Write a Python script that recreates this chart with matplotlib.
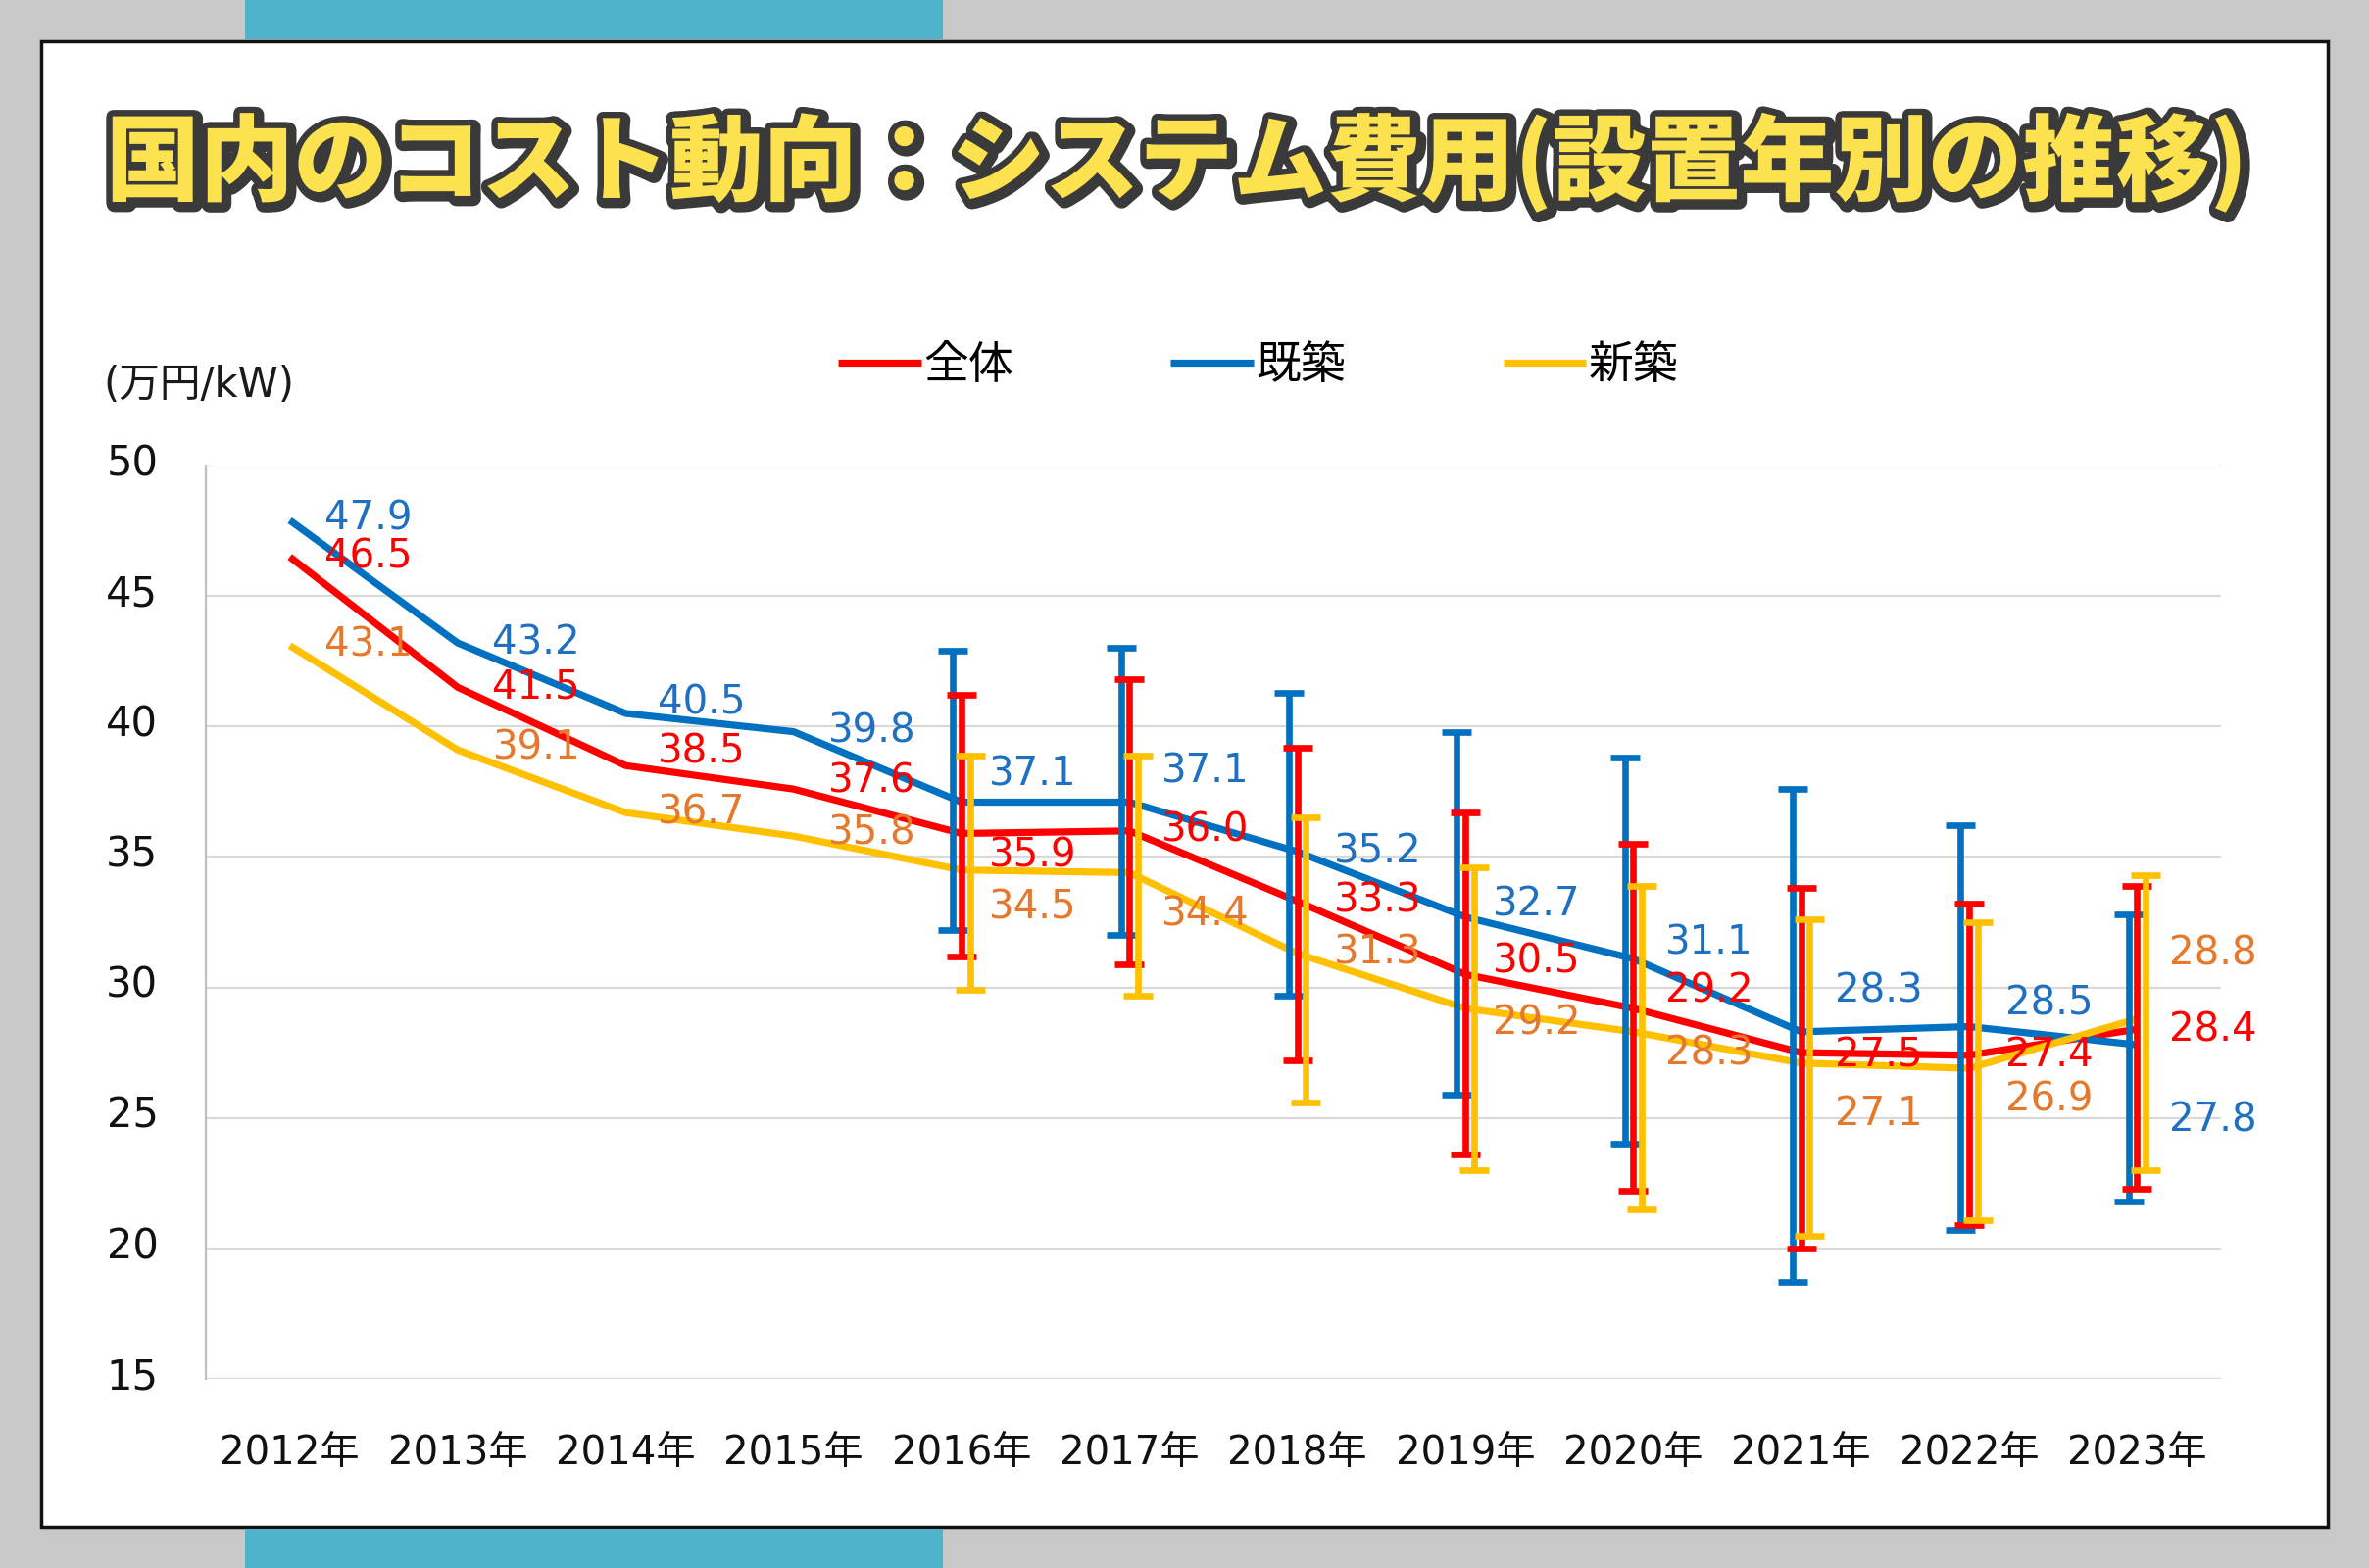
import matplotlib
matplotlib.use("Agg")
import matplotlib.pyplot as plt
import matplotlib.patheffects as pe
from matplotlib.patches import Rectangle
from matplotlib.transforms import ScaledTranslation
import numpy as np

plt.rcParams['font.family'] = ['DejaVu Sans', 'Noto Sans CJK JP']

# ---------------- data ----------------
years = ["2012年", "2013年", "2014年", "2015年", "2016年", "2017年",
         "2018年", "2019年", "2020年", "2021年", "2022年", "2023年"]
series_names = ["全体", "既築", "新築"]
total = [46.5, 41.5, 38.5, 37.6, 35.9, 36.0, 33.3, 30.5, 29.2, 27.5, 27.4, 28.4]
existing = [47.9, 43.2, 40.5, 39.8, 37.1, 37.1, 35.2, 32.7, 31.1, 28.3, 28.5, 27.8]
new_build = [43.1, 39.1, 36.7, 35.8, 34.5, 34.4, 31.3, 29.2, 28.3, 27.1, 26.9, 28.8]

# range (error bars) from 2016 onward
err_start = 4
total_high = [41.2, 41.8, 39.2, 36.7, 35.5, 33.8, 33.2, 33.9]
total_low = [31.2, 30.9, 27.2, 23.6, 22.2, 20.0, 20.9, 22.3]
existing_high = [42.9, 43.0, 41.3, 39.8, 38.8, 37.6, 36.2, 32.8]
existing_low = [32.2, 32.0, 29.7, 25.9, 24.0, 18.7, 20.7, 21.8]
new_high = [38.9, 38.9, 36.5, 34.6, 33.9, 32.6, 32.5, 34.3]
new_low = [29.9, 29.7, 25.6, 23.0, 21.5, 20.5, 21.1, 23.0]

yticks = [15, 20, 25, 30, 35, 40, 45, 50]

# ---------------- layout / style ----------------
W, H = 2417, 1600
RED, BLUE, YEL = "#FF0000", "#0070C0", "#FFC000"
LBL_RED, LBL_BLUE, LBL_ORG = "#FF0000", "#1F70C1", "#E5782A"
# label offsets (pixels in the shrunk reference; +dy = downward)
lab_dx = [23, 23, 21, 23, 18, 21, 24, 18, 21, 22, 24, 21]
dy_total = [0, 0, -9, -5, 15, 0, 0, -8, -11, 2, 0, 1]
dy_existing = [-1, 0, -7, 0, -18, -20, 0, -8, -10, -27, -15, 50]
dy_new = [0, -1, 0, -2, 25, 28, 0, 10, 15, 34, 21, -43]
PXPT = 1.11  # shrunk-px -> points

fig = plt.figure(figsize=(W / 100, H / 100), dpi=100)
fig.patch.set_facecolor("#C8C8C8")

# white panel with black border
fig.patches.append(Rectangle((42 / W, 1 - 1558 / H), (2375 - 42) / W, (1558 - 42) / H,
                             transform=fig.transFigure, facecolor="white",
                             edgecolor="#111111", linewidth=2.5, zorder=-5))
# blue tabs
for y0, y1 in [(0, 40), (1560, 1600)]:
    fig.patches.append(Rectangle((250 / W, 1 - y1 / H), (962 - 250) / W, (y1 - y0) / H,
                                 transform=fig.transFigure, facecolor="#4FB3CC",
                                 edgecolor="none", zorder=-4))

ax = fig.add_axes([210 / W, 1 - 1407 / H, 2056 / W, 932 / H])
ax.set_zorder(2)
ax.set_facecolor("none")
x = np.arange(len(years))

ax.set_xlim(-0.5, len(years) - 0.5)
ax.set_ylim(15, 50)
ax.set_yticks(yticks)
ax.set_xticks(x)
ax.set_xticklabels(years)
ax.yaxis.grid(True, color="#D9D9D9", linewidth=1.6)
ax.set_axisbelow(True)
for s in ["top", "right", "bottom"]:
    ax.spines[s].set_visible(False)
ax.spines["left"].set_color("#BFBFBF")
ax.spines["left"].set_linewidth(1.6)
ax.tick_params(axis="y", length=0, pad=35, labelsize=30, labelcolor="#111111")
ax.tick_params(axis="x", length=0, pad=40, labelsize=29, labelcolor="#111111")
for lab in ax.get_yticklabels():
    lab.set_transform(lab.get_transform() + ScaledTranslation(0, 4.5 / 72, fig.dpi_scale_trans))

lw = 5.2
l1, = ax.plot(x, total, color=RED, lw=lw, zorder=3, solid_capstyle="butt")
l2, = ax.plot(x, existing, color=BLUE, lw=lw, zorder=3, solid_capstyle="butt")
l3, = ax.plot(x, new_build, color=YEL, lw=lw, zorder=3, solid_capstyle="butt")

xe = x[err_start:]
off = 0.05
for vals, hi, lo, col, dx, z in [
        (existing, existing_high, existing_low, BLUE, -off, 4),
        (total, total_high, total_low, RED, 0.0, 5),
        (new_build, new_high, new_low, YEL, off, 6)]:
    v = np.array(vals[err_start:])
    yerr = [v - np.array(lo), np.array(hi) - v]
    ax.errorbar(xe + dx, v, yerr=yerr, fmt="none", ecolor=col, elinewidth=4.8,
                capsize=11, capthick=4.8, zorder=z)

for vals, dys, col in [(existing, dy_existing, LBL_BLUE),
                       (total, dy_total, LBL_RED),
                       (new_build, dy_new, LBL_ORG)]:
    for i, v in enumerate(vals):
        ax.annotate(f"{v:.1f}", xy=(x[i], v),
                    xytext=(lab_dx[i] * PXPT, -dys[i] * PXPT),
                    textcoords="offset points", ha="left", va="center",
                    fontsize=29, color=col, zorder=10,
                    annotation_clip=False)

# legend
fig.legend([l1, l2, l3], series_names, loc="center left",
           bbox_to_anchor=(855 / W, 1 - 373 / H), ncol=3, frameon=False,
           handlelength=1.85, handletextpad=0.05, columnspacing=3.5,
           borderpad=0, borderaxespad=0,
           prop={"family": ["Noto Sans CJK JP"], "size": 33})

# unit label
fig.text(105 / W, 1 - 393 / H, "(万円/kW)", ha="left", va="center",
         fontsize=30, color="#1a1a1a", family=["DejaVu Sans", "Noto Sans CJK JP"])

# title
fig.text(1201 / W, 1 - 166 / H, "国内のコスト動向：システム費用(設置年別の推移)",
         ha="center", va="center", fontsize=69, color="#FDE24F",
         family=["Noto Sans CJK JP"], fontweight="black",
         path_effects=[pe.Stroke(linewidth=12, foreground="#3A3A3A", offset=(1.5, -1.5)),
                       pe.Stroke(linewidth=9, foreground="#3A3A3A"),
                       pe.Normal()])

fig.savefig("out.png", dpi=100, facecolor=fig.get_facecolor())
